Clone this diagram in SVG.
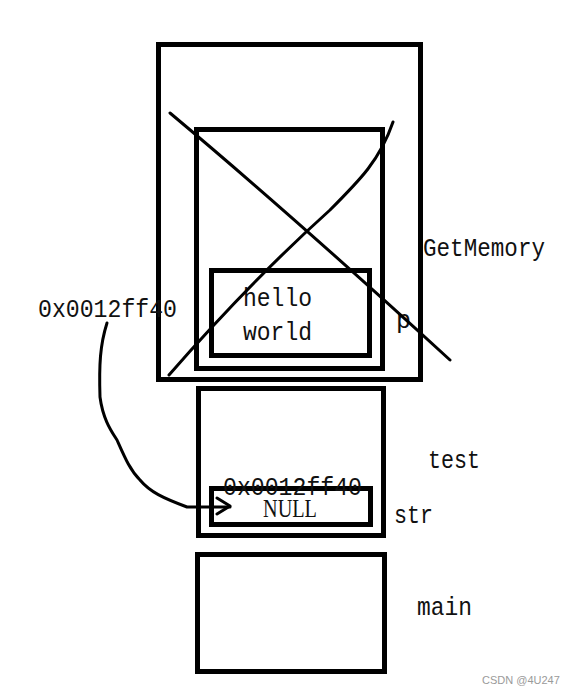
<svg xmlns="http://www.w3.org/2000/svg" width="571" height="695" viewBox="0 0 571 695">
<style>
.box{fill:none;stroke:#000;stroke-width:5}
.ibox{fill:none;stroke:#000;stroke-width:5}
.lbl{font-family:"Liberation Mono","DejaVu Sans Mono",monospace;font-size:25px;fill:#111}
.ink{fill:none;stroke:#000;stroke-width:3;stroke-linecap:round;stroke-linejoin:round}
.wm{font-family:"Liberation Sans",Arial,sans-serif;font-size:11px;fill:#9a9a9a}
</style>
<rect width="571" height="695" fill="#fff"/>
<g id="getmemory">
<rect class="box" x="158.5" y="44.5" width="262" height="335"/>
<text class="lbl" x="423" y="256" textLength="122" lengthAdjust="spacingAndGlyphs">GetMemory</text>
</g>
<g id="p">
<rect class="ibox" x="196.5" y="129.5" width="186" height="239"/>
<text class="lbl" x="396" y="328">p</text>
</g>
<g id="heap">
<rect class="ibox" x="211.5" y="270.5" width="158" height="85"/>
<text class="lbl" x="243" y="306" textLength="69" lengthAdjust="spacingAndGlyphs">hello</text>
<text class="lbl" x="243" y="340" textLength="69" lengthAdjust="spacingAndGlyphs">world</text>
</g>
<g id="test">
<rect class="box" x="198.5" y="388.5" width="185" height="147"/>
<text class="lbl" x="428" y="468" textLength="52" lengthAdjust="spacingAndGlyphs">test</text>
</g>
<g id="str">
<rect class="ibox" x="211.5" y="488.5" width="159" height="36"/>
<text class="lbl" x="223" y="495" textLength="139" lengthAdjust="spacingAndGlyphs">0x0012ff40</text>
<text x="263" y="517" font-family="Liberation Serif,serif" font-size="25" fill="#111" textLength="54" lengthAdjust="spacingAndGlyphs">NULL</text>
<text class="lbl" x="394" y="523" textLength="39" lengthAdjust="spacingAndGlyphs">str</text>
</g>
<g id="main">
<rect class="box" x="197.5" y="554.5" width="187" height="117"/>
<text class="lbl" x="417" y="615" textLength="55" lengthAdjust="spacingAndGlyphs">main</text>
</g>
<g id="addr">
<text class="lbl" x="38" y="317" textLength="139" lengthAdjust="spacingAndGlyphs">0x0012ff40</text>
</g>
<g id="connectors">
<path class="ink" d="M170,113 C250,180 330,250 450,360"/>
<path class="ink" d="M169,375 C230,305 280,255 330,210 C360,180 380,160 393,122"/>
<path class="ink" d="M107,323 C100,345 99,365 100,397 C103,420 112,432 117,440 C125,458 130,470 140,480 C150,492 163,498 187,507 L230,507"/>
<path class="ink" d="M217,498 L230,506 L217,514"/>
</g>
<text class="wm" x="482" y="684">CSDN @4U247</text>
</svg>
